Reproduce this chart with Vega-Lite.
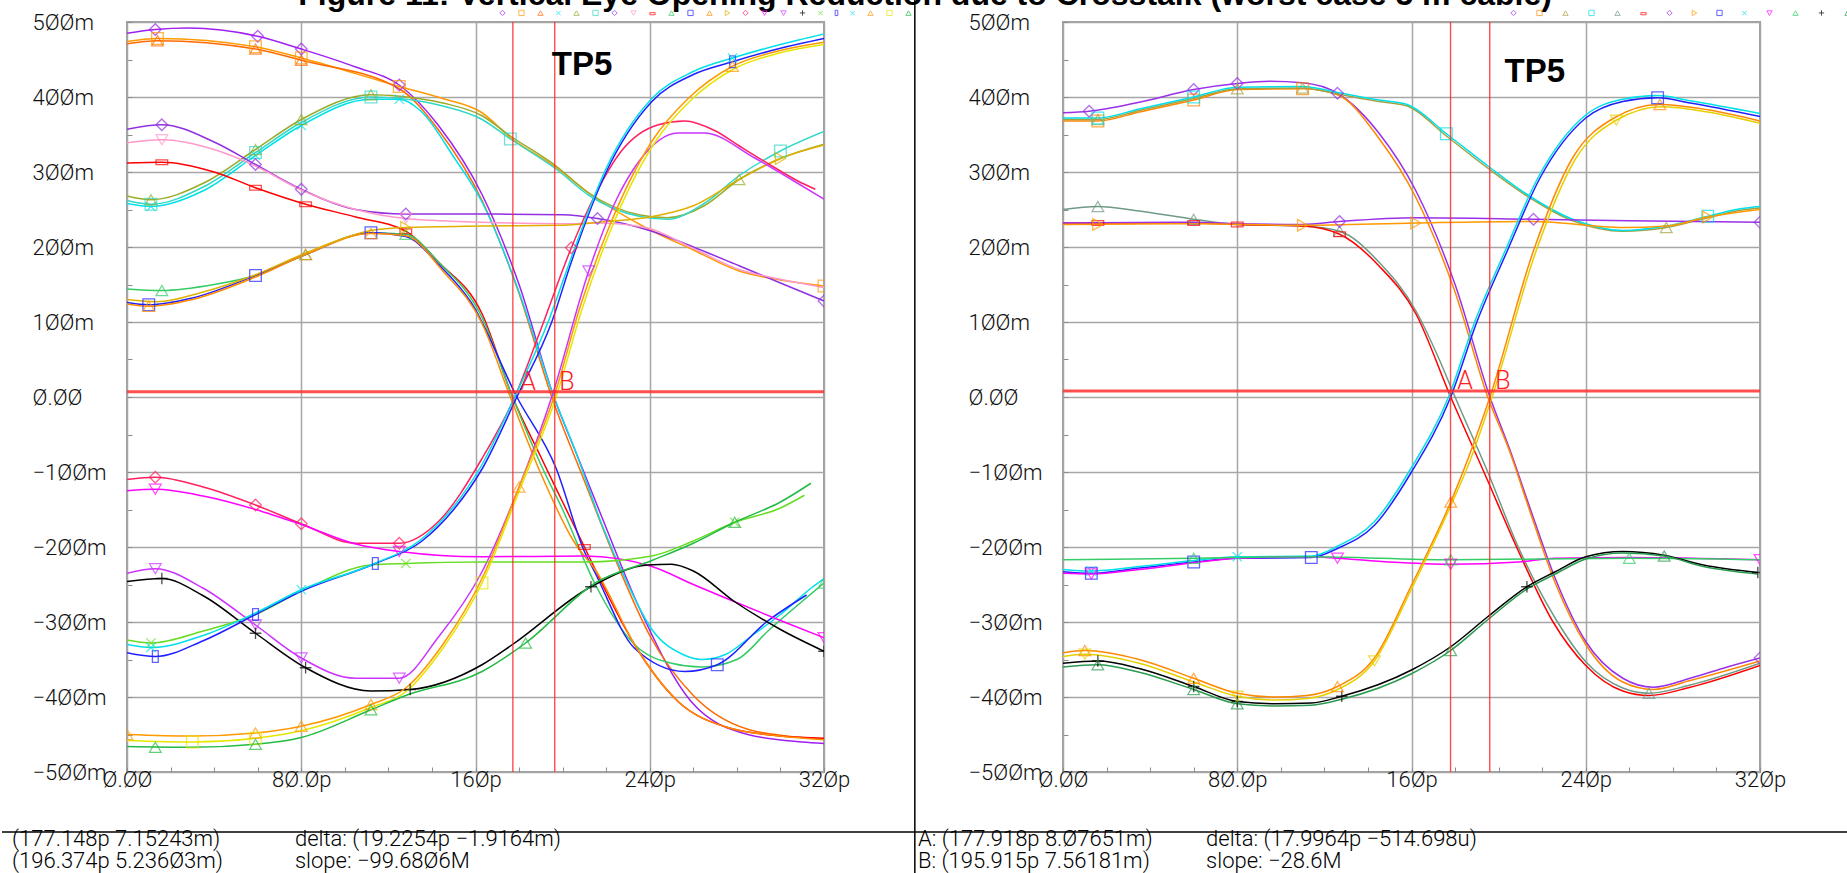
{
"$schema":"https://vega.github.io/schema/vega-lite/v6.json",
"background":"white",
"padding":{"left":0,"top":-40,"right":0,"bottom":0},
"bounds":"flush",
"spacing":239,
"resolve":{"scale":{"color":"independent","shape":"independent"},"legend":{"color":"independent","shape":"independent"}},
"config":{"view":{"stroke":"#a0a0a0","strokeWidth":2},
"axisX":{"title":null,"values":[0,8,16,24,32,40,48,56,64,72,80,88,96,104,112,120,128,136,144,152,160,168,176,184,192,200,208,216,224,232,240,248,256,264,272,280,288,296,304,312,320],
"labelExpr":"datum.value % 80 !== 0 ? '' : datum.value === 0 ? 'Ø.ØØ' : datum.value === 80 ? '8Ø.Øp' : replace(toString(datum.value), regexp('0','g'), 'Ø') + 'p'",
"labelOverlap":false,"labelFlush":false,"labelBound":false,"domain":false,"tickSize":-5,"tickColor":"#8c8c8c","gridColor":"#a6a6a6","gridWidth":1.5,
"gridOpacity":{"condition":{"test":"datum.value % 80 !== 0","value":0},"value":1},
"labelFont":"Roboto","labelFontWeight":300,"labelFontSize":22,"labelColor":"#111111","labelPadding":2,"labelBaseline":"top"},
"axisY":{"title":null,"values":[-500,-480,-460,-440,-420,-400,-380,-360,-340,-320,-300,-280,-260,-240,-220,-200,-180,-160,-140,-120,-100,-80,-60,-40,-20,0,20,40,60,80,100,120,140,160,180,200,220,240,260,280,300,320,340,360,380,400,420,440,460,480,500],
"labelExpr":"datum.value % 100 !== 0 ? '' : datum.value === 0 ? '\u00a0\u00a0Ø.ØØ' : (datum.value < 0 ? '\u2212' : '\u00a0\u00a0') + replace(toString(abs(datum.value)), regexp('0','g'), 'Ø') + 'm'",
"labelOverlap":false,"labelFlush":false,"labelBound":false,"domain":false,"tickSize":-5,"tickColor":"#8c8c8c","gridColor":"#a6a6a6","gridWidth":1.5,
"gridOpacity":{"condition":{"test":"datum.value % 100 !== 0","value":0},"value":1},
"labelFont":"Roboto","labelFontWeight":300,"labelFontSize":22,"labelColor":"#111111",
"labelPadding":100,"labelAlign":"left","labelBaseline":"middle"}
},
"datasets":{
"L":[
{"s":"La","t":0,"v":485},{"s":"La","t":13,"v":490},{"s":"La","t":28,"v":492},{"s":"La","t":60,"v":481},{"s":"La","t":80,"v":464},{"s":"La","t":105,"v":440},{"s":"La","t":125,"v":416},{"s":"La","t":143,"v":362},{"s":"La","t":163,"v":270},{"s":"La","t":180,"v":150},{"s":"La","t":196,"v":0},{"s":"La","t":206,"v":-73},{"s":"La","t":218,"v":-160},{"s":"La","t":235,"v":-280},{"s":"La","t":259,"v":-406},{"s":"La","t":285,"v":-450},{"s":"La","t":310,"v":-460},{"s":"La","t":320,"v":-462},
{"s":"Lb","t":0,"v":474},{"s":"Lb","t":14,"v":478},{"s":"Lb","t":59,"v":467},{"s":"Lb","t":80,"v":452},{"s":"Lb","t":125,"v":414},{"s":"Lb","t":145,"v":398},{"s":"Lb","t":163,"v":379},{"s":"Lb","t":176,"v":346},{"s":"Lb","t":197,"v":306},{"s":"Lb","t":212,"v":272},{"s":"Lb","t":238,"v":226},{"s":"Lb","t":260,"v":196},{"s":"Lb","t":281,"v":168},{"s":"Lb","t":300,"v":156},{"s":"Lb","t":320,"v":148},
{"s":"Lc","t":0,"v":471},{"s":"Lc","t":14,"v":475},{"s":"Lc","t":59,"v":464},{"s":"Lc","t":80,"v":449},{"s":"Lc","t":125,"v":411},{"s":"Lc","t":143,"v":356},{"s":"Lc","t":163,"v":262},{"s":"Lc","t":180,"v":138},{"s":"Lc","t":195,"v":0},{"s":"Lc","t":210,"v":-112},{"s":"Lc","t":225,"v":-222},{"s":"Lc","t":240,"v":-318},{"s":"Lc","t":260,"v":-398},{"s":"Lc","t":285,"v":-443},{"s":"Lc","t":310,"v":-454},{"s":"Lc","t":320,"v":-456},
{"s":"Ld","t":0,"v":258},{"s":"Ld","t":11,"v":254},{"s":"Ld","t":35,"v":275},{"s":"Ld","t":59,"v":322},{"s":"Ld","t":80,"v":362},{"s":"Ld","t":112,"v":397},{"s":"Ld","t":125,"v":397},{"s":"Ld","t":135,"v":381},{"s":"Ld","t":150,"v":320},{"s":"Ld","t":163,"v":260},{"s":"Ld","t":180,"v":140},{"s":"Ld","t":196,"v":0},{"s":"Ld","t":206,"v":-73},{"s":"Ld","t":218,"v":-170},{"s":"Ld","t":230,"v":-250},{"s":"Ld","t":241,"v":-310},{"s":"Ld","t":255,"v":-343},{"s":"Ld","t":264,"v":-350},{"s":"Ld","t":275,"v":-343},{"s":"Ld","t":287,"v":-318},{"s":"Ld","t":300,"v":-290},{"s":"Ld","t":314,"v":-255},{"s":"Ld","t":320,"v":-242},
{"s":"Le","t":0,"v":268},{"s":"Le","t":11,"v":263},{"s":"Le","t":35,"v":285},{"s":"Le","t":59,"v":330},{"s":"Le","t":80,"v":370},{"s":"Le","t":112,"v":403},{"s":"Le","t":125,"v":401},{"s":"Le","t":145,"v":392},{"s":"Le","t":163,"v":375},{"s":"Le","t":176,"v":348},{"s":"Le","t":197,"v":308},{"s":"Le","t":212,"v":272},{"s":"Le","t":235,"v":243},{"s":"Le","t":248,"v":239},{"s":"Le","t":265,"v":255},{"s":"Le","t":281,"v":290},{"s":"Le","t":300,"v":318},{"s":"Le","t":320,"v":337},
{"s":"Lf","t":0,"v":262},{"s":"Lf","t":11,"v":257},{"s":"Lf","t":35,"v":280},{"s":"Lf","t":59,"v":326},{"s":"Lf","t":80,"v":366},{"s":"Lf","t":112,"v":400},{"s":"Lf","t":125,"v":398},{"s":"Lf","t":145,"v":388},{"s":"Lf","t":163,"v":370},{"s":"Lf","t":176,"v":344},{"s":"Lf","t":197,"v":304},{"s":"Lf","t":212,"v":269},{"s":"Lf","t":235,"v":241},{"s":"Lf","t":248,"v":237},{"s":"Lf","t":265,"v":258},{"s":"Lf","t":281,"v":295},{"s":"Lf","t":300,"v":328},{"s":"Lf","t":320,"v":354},
{"s":"Lg","t":0,"v":357},{"s":"Lg","t":16,"v":363},{"s":"Lg","t":40,"v":340},{"s":"Lg","t":59,"v":310},{"s":"Lg","t":80,"v":277},{"s":"Lg","t":105,"v":250},{"s":"Lg","t":128,"v":244},{"s":"Lg","t":163,"v":244},{"s":"Lg","t":200,"v":243},{"s":"Lg","t":216,"v":238},{"s":"Lg","t":241,"v":221},{"s":"Lg","t":260,"v":200},{"s":"Lg","t":281,"v":175},{"s":"Lg","t":300,"v":152},{"s":"Lg","t":320,"v":128},
{"s":"Lh","t":0,"v":339},{"s":"Lh","t":16,"v":343},{"s":"Lh","t":40,"v":330},{"s":"Lh","t":59,"v":308},{"s":"Lh","t":80,"v":276},{"s":"Lh","t":105,"v":250},{"s":"Lh","t":128,"v":238},{"s":"Lh","t":163,"v":233},{"s":"Lh","t":200,"v":231},{"s":"Lh","t":216,"v":232},{"s":"Lh","t":238,"v":226},{"s":"Lh","t":260,"v":198},{"s":"Lh","t":281,"v":170},{"s":"Lh","t":300,"v":157},{"s":"Lh","t":320,"v":146},
{"s":"Li","t":0,"v":312},{"s":"Li","t":16,"v":313},{"s":"Li","t":40,"v":300},{"s":"Li","t":59,"v":279},{"s":"Li","t":82,"v":257},{"s":"Li","t":105,"v":240},{"s":"Li","t":128,"v":221},{"s":"Li","t":143,"v":180},{"s":"Li","t":163,"v":111},{"s":"Li","t":177,"v":0},{"s":"Li","t":190,"v":-80},{"s":"Li","t":200,"v":-140},{"s":"Li","t":210,"v":-200},{"s":"Li","t":220,"v":-260},{"s":"Li","t":233,"v":-330},{"s":"Li","t":253,"v":-406},{"s":"Li","t":275,"v":-440},{"s":"Li","t":300,"v":-452},{"s":"Li","t":320,"v":-455},
{"s":"Lj","t":0,"v":144},{"s":"Lj","t":16,"v":142},{"s":"Lj","t":40,"v":150},{"s":"Lj","t":59,"v":162},{"s":"Lj","t":82,"v":190},{"s":"Lj","t":112,"v":219},{"s":"Lj","t":128,"v":217},{"s":"Lj","t":143,"v":180},{"s":"Lj","t":163,"v":106},{"s":"Lj","t":177,"v":0},{"s":"Lj","t":190,"v":-90},{"s":"Lj","t":200,"v":-150},{"s":"Lj","t":215,"v":-250},{"s":"Lj","t":233,"v":-330},{"s":"Lj","t":250,"v":-355},{"s":"Lj","t":264,"v":-360},{"s":"Lj","t":280,"v":-350},{"s":"Lj","t":295,"v":-310},{"s":"Lj","t":320,"v":-248},
{"s":"Lk","t":0,"v":126},{"s":"Lk","t":10,"v":123},{"s":"Lk","t":30,"v":132},{"s":"Lk","t":59,"v":162},{"s":"Lk","t":82,"v":190},{"s":"Lk","t":112,"v":219},{"s":"Lk","t":128,"v":214},{"s":"Lk","t":143,"v":177},{"s":"Lk","t":158,"v":126},{"s":"Lk","t":179,"v":0},{"s":"Lk","t":197,"v":-95},{"s":"Lk","t":210,"v":-206},{"s":"Lk","t":215,"v":-235},{"s":"Lk","t":233,"v":-335},{"s":"Lk","t":256,"v":-366},{"s":"Lk","t":271,"v":-357},{"s":"Lk","t":294,"v":-299},{"s":"Lk","t":312,"v":-264},
{"s":"Ll","t":0,"v":124},{"s":"Ll","t":10,"v":121},{"s":"Ll","t":30,"v":130},{"s":"Ll","t":59,"v":160},{"s":"Ll","t":82,"v":190},{"s":"Ll","t":112,"v":218},{"s":"Ll","t":128,"v":215},{"s":"Ll","t":145,"v":168},{"s":"Ll","t":163,"v":98},{"s":"Ll","t":176,"v":0},{"s":"Ll","t":190,"v":-102},{"s":"Ll","t":205,"v":-192},{"s":"Ll","t":216,"v":-235},{"s":"Ll","t":233,"v":-330},{"s":"Ll","t":253,"v":-406},{"s":"Ll","t":275,"v":-440},{"s":"Ll","t":300,"v":-452},{"s":"Ll","t":320,"v":-457},
{"s":"Lm","t":0,"v":130},{"s":"Lm","t":14,"v":127},{"s":"Lm","t":35,"v":140},{"s":"Lm","t":59,"v":163},{"s":"Lm","t":82,"v":192},{"s":"Lm","t":112,"v":222},{"s":"Lm","t":128,"v":226},{"s":"Lm","t":163,"v":228},{"s":"Lm","t":200,"v":229},{"s":"Lm","t":220,"v":234},{"s":"Lm","t":240,"v":240},{"s":"Lm","t":260,"v":255},{"s":"Lm","t":281,"v":290},{"s":"Lm","t":300,"v":318},{"s":"Lm","t":320,"v":336},
{"s":"Ln","t":0,"v":-110},{"s":"Ln","t":13,"v":-107},{"s":"Ln","t":35,"v":-120},{"s":"Ln","t":59,"v":-144},{"s":"Ln","t":80,"v":-169},{"s":"Ln","t":105,"v":-195},{"s":"Ln","t":125,"v":-195},{"s":"Ln","t":143,"v":-166},{"s":"Ln","t":163,"v":-82},{"s":"Ln","t":178,"v":0},{"s":"Ln","t":190,"v":90},{"s":"Ln","t":204,"v":199},{"s":"Ln","t":215,"v":270},{"s":"Ln","t":227,"v":328},{"s":"Ln","t":244,"v":363},{"s":"Ln","t":256,"v":368},{"s":"Ln","t":270,"v":355},{"s":"Ln","t":281,"v":335},{"s":"Ln","t":295,"v":310},{"s":"Ln","t":308,"v":288},{"s":"Ln","t":316,"v":277},
{"s":"Lo","t":0,"v":-125},{"s":"Lo","t":13,"v":-123},{"s":"Lo","t":35,"v":-132},{"s":"Lo","t":59,"v":-150},{"s":"Lo","t":80,"v":-170},{"s":"Lo","t":105,"v":-196},{"s":"Lo","t":125,"v":-206},{"s":"Lo","t":163,"v":-213},{"s":"Lo","t":210,"v":-212},{"s":"Lo","t":241,"v":-226},{"s":"Lo","t":260,"v":-250},{"s":"Lo","t":279,"v":-273},{"s":"Lo","t":300,"v":-298},{"s":"Lo","t":320,"v":-321},
{"s":"Lp","t":0,"v":-235},{"s":"Lp","t":13,"v":-229},{"s":"Lp","t":35,"v":-255},{"s":"Lp","t":59,"v":-304},{"s":"Lp","t":80,"v":-348},{"s":"Lp","t":105,"v":-375},{"s":"Lp","t":125,"v":-375},{"s":"Lp","t":143,"v":-320},{"s":"Lp","t":163,"v":-233},{"s":"Lp","t":180,"v":-120},{"s":"Lp","t":195,"v":0},{"s":"Lp","t":212,"v":168},{"s":"Lp","t":225,"v":265},{"s":"Lp","t":235,"v":314},{"s":"Lp","t":253,"v":352},{"s":"Lp","t":265,"v":352},{"s":"Lp","t":288,"v":319},{"s":"Lp","t":305,"v":290},{"s":"Lp","t":320,"v":264},
{"s":"Lq","t":0,"v":-246},{"s":"Lq","t":16,"v":-242},{"s":"Lq","t":35,"v":-265},{"s":"Lq","t":59,"v":-315},{"s":"Lq","t":82,"v":-361},{"s":"Lq","t":112,"v":-392},{"s":"Lq","t":130,"v":-390},{"s":"Lq","t":163,"v":-357},{"s":"Lq","t":177,"v":-330},{"s":"Lq","t":213,"v":-253},{"s":"Lq","t":239,"v":-224},{"s":"Lq","t":250,"v":-223},{"s":"Lq","t":260,"v":-232},{"s":"Lq","t":279,"v":-273},{"s":"Lq","t":300,"v":-310},{"s":"Lq","t":320,"v":-339},
{"s":"Lr","t":0,"v":-324},{"s":"Lr","t":11,"v":-328},{"s":"Lr","t":35,"v":-312},{"s":"Lr","t":59,"v":-290},{"s":"Lr","t":80,"v":-259},{"s":"Lr","t":112,"v":-224},{"s":"Lr","t":128,"v":-222},{"s":"Lr","t":163,"v":-220},{"s":"Lr","t":210,"v":-220},{"s":"Lr","t":241,"v":-212},{"s":"Lr","t":260,"v":-192},{"s":"Lr","t":279,"v":-167},{"s":"Lr","t":300,"v":-148},{"s":"Lr","t":311,"v":-131},
{"s":"Ls","t":0,"v":-341},{"s":"Ls","t":13,"v":-346},{"s":"Ls","t":35,"v":-325},{"s":"Ls","t":59,"v":-290},{"s":"Ls","t":80,"v":-259},{"s":"Ls","t":114,"v":-222},{"s":"Ls","t":135,"v":-193},{"s":"Ls","t":150,"v":-150},{"s":"Ls","t":163,"v":-96},{"s":"Ls","t":179,"v":0},{"s":"Ls","t":195,"v":100},{"s":"Ls","t":204,"v":180},{"s":"Ls","t":220,"v":300},{"s":"Ls","t":241,"v":394},{"s":"Ls","t":260,"v":430},{"s":"Ls","t":278,"v":447},{"s":"Ls","t":300,"v":465},{"s":"Ls","t":320,"v":478},
{"s":"Lt","t":0,"v":-330},{"s":"Lt","t":11,"v":-334},{"s":"Lt","t":35,"v":-318},{"s":"Lt","t":59,"v":-288},{"s":"Lt","t":80,"v":-257},{"s":"Lt","t":112,"v":-224},{"s":"Lt","t":135,"v":-190},{"s":"Lt","t":150,"v":-146},{"s":"Lt","t":163,"v":-90},{"s":"Lt","t":178,"v":0},{"s":"Lt","t":194,"v":105},{"s":"Lt","t":204,"v":186},{"s":"Lt","t":220,"v":305},{"s":"Lt","t":241,"v":398},{"s":"Lt","t":260,"v":434},{"s":"Lt","t":278,"v":452},{"s":"Lt","t":300,"v":470},{"s":"Lt","t":320,"v":484},
{"s":"Lu","t":0,"v":-450},{"s":"Lu","t":30,"v":-452},{"s":"Lu","t":59,"v":-448},{"s":"Lu","t":80,"v":-439},{"s":"Lu","t":112,"v":-410},{"s":"Lu","t":128,"v":-388},{"s":"Lu","t":145,"v":-330},{"s":"Lu","t":163,"v":-242},{"s":"Lu","t":180,"v":-120},{"s":"Lu","t":196,"v":0},{"s":"Lu","t":208,"v":120},{"s":"Lu","t":220,"v":217},{"s":"Lu","t":241,"v":341},{"s":"Lu","t":258,"v":399},{"s":"Lu","t":278,"v":441},{"s":"Lu","t":300,"v":462},{"s":"Lu","t":320,"v":473},
{"s":"Lv","t":0,"v":-458},{"s":"Lv","t":30,"v":-460},{"s":"Lv","t":59,"v":-455},{"s":"Lv","t":80,"v":-445},{"s":"Lv","t":112,"v":-414},{"s":"Lv","t":128,"v":-393},{"s":"Lv","t":145,"v":-335},{"s":"Lv","t":163,"v":-248},{"s":"Lv","t":180,"v":-126},{"s":"Lv","t":197,"v":0},{"s":"Lv","t":209,"v":118},{"s":"Lv","t":221,"v":215},{"s":"Lv","t":242,"v":338},{"s":"Lv","t":259,"v":396},{"s":"Lv","t":279,"v":438},{"s":"Lv","t":300,"v":459},{"s":"Lv","t":320,"v":470},
{"s":"Lw","t":0,"v":-466},{"s":"Lw","t":30,"v":-467},{"s":"Lw","t":59,"v":-463},{"s":"Lw","t":80,"v":-454},{"s":"Lw","t":112,"v":-417},{"s":"Lw","t":128,"v":-398},{"s":"Lw","t":163,"v":-366},{"s":"Lw","t":183,"v":-328},{"s":"Lw","t":215,"v":-248},{"s":"Lw","t":241,"v":-218},{"s":"Lw","t":260,"v":-195},{"s":"Lw","t":279,"v":-167},{"s":"Lw","t":300,"v":-140},{"s":"Lw","t":314,"v":-115}
],
"R":[
{"s":"RA","t":0,"v":379},{"s":"RA","t":12,"v":381},{"s":"RA","t":35,"v":393},{"s":"RA","t":60,"v":410},{"s":"RA","t":80,"v":418},{"s":"RA","t":95,"v":421},{"s":"RA","t":110,"v":419},{"s":"RA","t":126,"v":405},{"s":"RA","t":145,"v":352},{"s":"RA","t":162,"v":275},{"s":"RA","t":180,"v":150},{"s":"RA","t":196,"v":0},{"s":"RA","t":205,"v":-69},{"s":"RA","t":215,"v":-153},{"s":"RA","t":226,"v":-242},{"s":"RA","t":240,"v":-326},{"s":"RA","t":257,"v":-375},{"s":"RA","t":271,"v":-387},{"s":"RA","t":288,"v":-375},{"s":"RA","t":305,"v":-360},{"s":"RA","t":320,"v":-348},
{"s":"RB","t":0,"v":368},{"s":"RB","t":16,"v":368},{"s":"RB","t":35,"v":380},{"s":"RB","t":60,"v":396},{"s":"RB","t":80,"v":410},{"s":"RB","t":110,"v":411},{"s":"RB","t":126,"v":403},{"s":"RB","t":145,"v":345},{"s":"RB","t":162,"v":266},{"s":"RB","t":180,"v":140},{"s":"RB","t":195,"v":0},{"s":"RB","t":205,"v":-72},{"s":"RB","t":215,"v":-158},{"s":"RB","t":226,"v":-248},{"s":"RB","t":240,"v":-330},{"s":"RB","t":257,"v":-380},{"s":"RB","t":271,"v":-390},{"s":"RB","t":288,"v":-378},{"s":"RB","t":320,"v":-352},
{"s":"RC","t":0,"v":370},{"s":"RC","t":16,"v":370},{"s":"RC","t":35,"v":382},{"s":"RC","t":60,"v":398},{"s":"RC","t":80,"v":411},{"s":"RC","t":110,"v":412},{"s":"RC","t":126,"v":404},{"s":"RC","t":145,"v":394},{"s":"RC","t":158,"v":388},{"s":"RC","t":176,"v":348},{"s":"RC","t":196,"v":303},{"s":"RC","t":212,"v":270},{"s":"RC","t":234,"v":235},{"s":"RC","t":257,"v":221},{"s":"RC","t":277,"v":226},{"s":"RC","t":296,"v":239},{"s":"RC","t":311,"v":249},{"s":"RC","t":320,"v":252},
{"s":"RD","t":0,"v":372},{"s":"RD","t":16,"v":372},{"s":"RD","t":35,"v":384},{"s":"RD","t":60,"v":400},{"s":"RD","t":80,"v":413},{"s":"RD","t":110,"v":414},{"s":"RD","t":126,"v":406},{"s":"RD","t":145,"v":396},{"s":"RD","t":158,"v":390},{"s":"RD","t":176,"v":351},{"s":"RD","t":196,"v":306},{"s":"RD","t":212,"v":272},{"s":"RD","t":234,"v":237},{"s":"RD","t":257,"v":222},{"s":"RD","t":277,"v":228},{"s":"RD","t":296,"v":241},{"s":"RD","t":311,"v":251},{"s":"RD","t":320,"v":254},
{"s":"RE","t":0,"v":250},{"s":"RE","t":16,"v":254},{"s":"RE","t":35,"v":248},{"s":"RE","t":60,"v":237},{"s":"RE","t":80,"v":230},{"s":"RE","t":110,"v":228},{"s":"RE","t":127,"v":221},{"s":"RE","t":145,"v":180},{"s":"RE","t":162,"v":115},{"s":"RE","t":172,"v":55},{"s":"RE","t":180,"v":0},{"s":"RE","t":195,"v":-100},{"s":"RE","t":209,"v":-200},{"s":"RE","t":226,"v":-295},{"s":"RE","t":240,"v":-353},{"s":"RE","t":257,"v":-388},{"s":"RE","t":269,"v":-395},{"s":"RE","t":288,"v":-384},{"s":"RE","t":320,"v":-355},
{"s":"RF","t":0,"v":232},{"s":"RF","t":60,"v":232},{"s":"RF","t":80,"v":230},{"s":"RF","t":110,"v":228},{"s":"RF","t":127,"v":217},{"s":"RF","t":145,"v":175},{"s":"RF","t":162,"v":111},{"s":"RF","t":178,"v":0},{"s":"RF","t":194,"v":-105},{"s":"RF","t":209,"v":-205},{"s":"RF","t":225,"v":-300},{"s":"RF","t":240,"v":-358},{"s":"RF","t":257,"v":-392},{"s":"RF","t":269,"v":-398},{"s":"RF","t":288,"v":-387},{"s":"RF","t":320,"v":-358},
{"s":"RG","t":0,"v":232},{"s":"RG","t":60,"v":233},{"s":"RG","t":80,"v":231},{"s":"RG","t":110,"v":230},{"s":"RG","t":127,"v":234},{"s":"RG","t":162,"v":239},{"s":"RG","t":216,"v":237},{"s":"RG","t":260,"v":235},{"s":"RG","t":320,"v":233},
{"s":"RH","t":0,"v":230},{"s":"RH","t":60,"v":231},{"s":"RH","t":110,"v":229},{"s":"RH","t":162,"v":232},{"s":"RH","t":216,"v":234},{"s":"RH","t":257,"v":226},{"s":"RH","t":277,"v":228},{"s":"RH","t":296,"v":240},{"s":"RH","t":320,"v":250},
{"s":"RI","t":0,"v":-233},{"s":"RI","t":13,"v":-235},{"s":"RI","t":35,"v":-228},{"s":"RI","t":60,"v":-220},{"s":"RI","t":80,"v":-215},{"s":"RI","t":114,"v":-214},{"s":"RI","t":126,"v":-202},{"s":"RI","t":143,"v":-171},{"s":"RI","t":160,"v":-100},{"s":"RI","t":178,"v":0},{"s":"RI","t":190,"v":100},{"s":"RI","t":204,"v":195},{"s":"RI","t":219,"v":292},{"s":"RI","t":240,"v":372},{"s":"RI","t":257,"v":394},{"s":"RI","t":273,"v":399},{"s":"RI","t":288,"v":392},{"s":"RI","t":320,"v":374},
{"s":"RJ","t":0,"v":-230},{"s":"RJ","t":13,"v":-232},{"s":"RJ","t":35,"v":-226},{"s":"RJ","t":60,"v":-218},{"s":"RJ","t":80,"v":-213},{"s":"RJ","t":114,"v":-212},{"s":"RJ","t":126,"v":-199},{"s":"RJ","t":143,"v":-166},{"s":"RJ","t":160,"v":-94},{"s":"RJ","t":177,"v":0},{"s":"RJ","t":189,"v":100},{"s":"RJ","t":203,"v":195},{"s":"RJ","t":218,"v":292},{"s":"RJ","t":240,"v":376},{"s":"RJ","t":257,"v":397},{"s":"RJ","t":273,"v":402},{"s":"RJ","t":288,"v":395},{"s":"RJ","t":320,"v":378},
{"s":"RK","t":0,"v":-235},{"s":"RK","t":13,"v":-236},{"s":"RK","t":35,"v":-230},{"s":"RK","t":60,"v":-221},{"s":"RK","t":80,"v":-215},{"s":"RK","t":113,"v":-213},{"s":"RK","t":126,"v":-215},{"s":"RK","t":150,"v":-220},{"s":"RK","t":178,"v":-223},{"s":"RK","t":209,"v":-220},{"s":"RK","t":226,"v":-215},{"s":"RK","t":260,"v":-214},{"s":"RK","t":320,"v":-217},
{"s":"RL","t":0,"v":-217},{"s":"RL","t":60,"v":-215},{"s":"RL","t":113,"v":-213},{"s":"RL","t":178,"v":-217},{"s":"RL","t":260,"v":-215},{"s":"RL","t":320,"v":-217},
{"s":"RM","t":0,"v":-355},{"s":"RM","t":16,"v":-352},{"s":"RM","t":35,"v":-362},{"s":"RM","t":60,"v":-386},{"s":"RM","t":80,"v":-406},{"s":"RM","t":97,"v":-409},{"s":"RM","t":114,"v":-408},{"s":"RM","t":128,"v":-399},{"s":"RM","t":160,"v":-364},{"s":"RM","t":178,"v":-333},{"s":"RM","t":195,"v":-293},{"s":"RM","t":213,"v":-253},{"s":"RM","t":226,"v":-233},{"s":"RM","t":240,"v":-213},{"s":"RM","t":257,"v":-206},{"s":"RM","t":276,"v":-211},{"s":"RM","t":294,"v":-224},{"s":"RM","t":319,"v":-234},
{"s":"RN","t":0,"v":-360},{"s":"RN","t":16,"v":-357},{"s":"RN","t":35,"v":-367},{"s":"RN","t":60,"v":-390},{"s":"RN","t":80,"v":-409},{"s":"RN","t":97,"v":-412},{"s":"RN","t":114,"v":-411},{"s":"RN","t":128,"v":-403},{"s":"RN","t":160,"v":-369},{"s":"RN","t":178,"v":-338},{"s":"RN","t":195,"v":-297},{"s":"RN","t":213,"v":-256},{"s":"RN","t":226,"v":-236},{"s":"RN","t":240,"v":-216},{"s":"RN","t":257,"v":-208},{"s":"RN","t":276,"v":-212},{"s":"RN","t":294,"v":-226},{"s":"RN","t":319,"v":-236},
{"s":"RO","t":0,"v":-341},{"s":"RO","t":10,"v":-338},{"s":"RO","t":35,"v":-350},{"s":"RO","t":60,"v":-375},{"s":"RO","t":80,"v":-395},{"s":"RO","t":97,"v":-400},{"s":"RO","t":112,"v":-398},{"s":"RO","t":126,"v":-386},{"s":"RO","t":143,"v":-348},{"s":"RO","t":160,"v":-251},{"s":"RO","t":178,"v":-140},{"s":"RO","t":186,"v":-82},{"s":"RO","t":196,"v":0},{"s":"RO","t":216,"v":195},{"s":"RO","t":234,"v":319},{"s":"RO","t":253,"v":372},{"s":"RO","t":274,"v":390},{"s":"RO","t":296,"v":383},{"s":"RO","t":320,"v":368},
{"s":"RP","t":0,"v":-346},{"s":"RP","t":10,"v":-343},{"s":"RP","t":35,"v":-355},{"s":"RP","t":60,"v":-380},{"s":"RP","t":80,"v":-399},{"s":"RP","t":97,"v":-404},{"s":"RP","t":112,"v":-402},{"s":"RP","t":126,"v":-390},{"s":"RP","t":143,"v":-352},{"s":"RP","t":160,"v":-256},{"s":"RP","t":178,"v":-145},{"s":"RP","t":187,"v":-84},{"s":"RP","t":197,"v":0},{"s":"RP","t":217,"v":193},{"s":"RP","t":235,"v":316},{"s":"RP","t":254,"v":369},{"s":"RP","t":275,"v":387},{"s":"RP","t":296,"v":380},{"s":"RP","t":320,"v":365}
],
"LM":[
{"s":"La","t":13,"v":490},{"s":"La","t":60,"v":481},{"s":"La","t":80,"v":464},{"s":"La","t":125,"v":416},
{"s":"Lb","t":14,"v":478},{"s":"Lb","t":59,"v":467},{"s":"Lb","t":80,"v":452},{"s":"Lb","t":125,"v":414},{"s":"Lb","t":320,"v":148},
{"s":"Lc","t":14,"v":475},{"s":"Lc","t":59,"v":464},{"s":"Lc","t":80,"v":449},
{"s":"Ld","t":11,"v":254},{"s":"Ld","t":59,"v":322},{"s":"Ld","t":80,"v":362},{"s":"Ld","t":125,"v":397},
{"s":"Le","t":11,"v":263},{"s":"Le","t":59,"v":330},{"s":"Le","t":80,"v":370},{"s":"Le","t":112,"v":403},{"s":"Le","t":281,"v":290},
{"s":"Lf","t":11,"v":257},{"s":"Lf","t":59,"v":326},{"s":"Lf","t":112,"v":400},{"s":"Lf","t":176,"v":344},{"s":"Lf","t":300,"v":328},
{"s":"Lg","t":16,"v":363},{"s":"Lg","t":59,"v":310},{"s":"Lg","t":80,"v":277},{"s":"Lg","t":128,"v":244},{"s":"Lg","t":216,"v":238},{"s":"Lg","t":320,"v":128},
{"s":"Lh","t":16,"v":343},{"s":"Lh","t":128,"v":238},
{"s":"Li","t":16,"v":313},{"s":"Li","t":59,"v":279},{"s":"Li","t":82,"v":257},{"s":"Li","t":128,"v":221},{"s":"Li","t":210,"v":-200},
{"s":"Lj","t":16,"v":142},{"s":"Lj","t":82,"v":190},{"s":"Lj","t":128,"v":217},{"s":"Lj","t":320,"v":-248},
{"s":"Lk","t":10,"v":123},{"s":"Lk","t":59,"v":162},{"s":"Lk","t":112,"v":219},{"s":"Lk","t":271,"v":-357},
{"s":"Ll","t":10,"v":121},{"s":"Ll","t":82,"v":190},{"s":"Ll","t":112,"v":218},
{"s":"Lm","t":128,"v":226},{"s":"Lm","t":300,"v":318},
{"s":"Ln","t":13,"v":-107},{"s":"Ln","t":59,"v":-144},{"s":"Ln","t":80,"v":-169},{"s":"Ln","t":125,"v":-195},{"s":"Ln","t":204,"v":199},
{"s":"Lo","t":13,"v":-123},{"s":"Lo","t":125,"v":-206},{"s":"Lo","t":320,"v":-321},
{"s":"Lp","t":13,"v":-229},{"s":"Lp","t":59,"v":-304},{"s":"Lp","t":80,"v":-348},{"s":"Lp","t":125,"v":-375},{"s":"Lp","t":212,"v":168},
{"s":"Lq","t":16,"v":-242},{"s":"Lq","t":59,"v":-315},{"s":"Lq","t":82,"v":-361},{"s":"Lq","t":130,"v":-390},{"s":"Lq","t":213,"v":-253},{"s":"Lq","t":320,"v":-339},
{"s":"Lr","t":11,"v":-328},{"s":"Lr","t":128,"v":-222},{"s":"Lr","t":279,"v":-167},
{"s":"Ls","t":13,"v":-346},{"s":"Ls","t":59,"v":-290},{"s":"Ls","t":114,"v":-222},{"s":"Ls","t":278,"v":447},
{"s":"Lt","t":11,"v":-334},{"s":"Lt","t":80,"v":-257},{"s":"Lt","t":278,"v":452},
{"s":"Lu","t":0,"v":-450},{"s":"Lu","t":59,"v":-448},{"s":"Lu","t":80,"v":-439},{"s":"Lu","t":112,"v":-410},{"s":"Lu","t":180,"v":-120},{"s":"Lu","t":278,"v":441},
{"s":"Lv","t":30,"v":-460},{"s":"Lv","t":59,"v":-455},{"s":"Lv","t":163,"v":-248},
{"s":"Lw","t":13,"v":-467},{"s":"Lw","t":59,"v":-463},{"s":"Lw","t":112,"v":-417},{"s":"Lw","t":183,"v":-328},{"s":"Lw","t":279,"v":-167}
],
"RMK":[
{"s":"RA","t":12,"v":381},{"s":"RA","t":60,"v":410},{"s":"RA","t":80,"v":418},{"s":"RA","t":126,"v":405},{"s":"RA","t":320,"v":-348},
{"s":"RB","t":16,"v":368},{"s":"RB","t":60,"v":396},{"s":"RB","t":110,"v":411},
{"s":"RC","t":16,"v":370},{"s":"RC","t":80,"v":411},{"s":"RC","t":110,"v":412},{"s":"RC","t":277,"v":226},
{"s":"RD","t":16,"v":372},{"s":"RD","t":60,"v":400},{"s":"RD","t":176,"v":351},{"s":"RD","t":296,"v":241},
{"s":"RE","t":16,"v":254},{"s":"RE","t":60,"v":237},{"s":"RE","t":127,"v":221},{"s":"RE","t":269,"v":-395},
{"s":"RF","t":16,"v":232},{"s":"RF","t":60,"v":232},{"s":"RF","t":80,"v":230},{"s":"RF","t":127,"v":217},
{"s":"RG","t":127,"v":234},{"s":"RG","t":216,"v":237},{"s":"RG","t":320,"v":233},
{"s":"RH","t":16,"v":230},{"s":"RH","t":110,"v":229},{"s":"RH","t":162,"v":232},{"s":"RH","t":296,"v":240},
{"s":"RI","t":13,"v":-235},{"s":"RI","t":60,"v":-220},{"s":"RI","t":114,"v":-214},{"s":"RI","t":273,"v":399},
{"s":"RJ","t":13,"v":-232},{"s":"RJ","t":80,"v":-213},
{"s":"RK","t":13,"v":-236},{"s":"RK","t":126,"v":-215},{"s":"RK","t":178,"v":-223},{"s":"RK","t":320,"v":-217},
{"s":"RL","t":60,"v":-215},{"s":"RL","t":178,"v":-217},{"s":"RL","t":260,"v":-215},
{"s":"RM","t":16,"v":-352},{"s":"RM","t":60,"v":-386},{"s":"RM","t":80,"v":-406},{"s":"RM","t":128,"v":-399},{"s":"RM","t":213,"v":-253},{"s":"RM","t":319,"v":-234},
{"s":"RN","t":16,"v":-357},{"s":"RN","t":60,"v":-390},{"s":"RN","t":80,"v":-409},{"s":"RN","t":178,"v":-338},{"s":"RN","t":276,"v":-212},
{"s":"RO","t":10,"v":-338},{"s":"RO","t":60,"v":-375},{"s":"RO","t":126,"v":-386},{"s":"RO","t":178,"v":-140},{"s":"RO","t":274,"v":390},
{"s":"RP","t":10,"v":-343},{"s":"RP","t":80,"v":-399},{"s":"RP","t":143,"v":-352},{"s":"RP","t":254,"v":369}
]
},
"hconcat":[
{"width":697,"height":750,
"layer":[
{"data":{"name":"L"},"mark":{"type":"line","interpolate":"monotone","strokeWidth":1.5,"clip":true},
"encoding":{"x":{"field":"t","type":"quantitative","scale":{"domain":[0,320],"nice":false,"zero":false},"axis":{"labelFlush":false}},
"y":{"field":"v","type":"quantitative","scale":{"domain":[-500,500],"nice":false,"zero":false},"axis":{"labelFlush":false}},
"color":{"field":"s","type":"nominal","legend":{"orient":"none","legendX":372,"legendY":-13,"direction":"horizontal","columns":23,"title":null,"labelExpr":"''","labelFontSize":1,"symbolSize":28,"symbolStrokeWidth":1,"columnPadding":8,"rowPadding":0,"padding":0,"labelOffset":0},"scale":{"domain":["La","Lb","Lc","Ld","Le","Lf","Lg","Lh","Li","Lj","Lk","Ll","Lm","Ln","Lo","Lp","Lq","Lr","Ls","Lt","Lu","Lv","Lw"],"range":["#a020f0","#ff9900","#ff6a00","#00e0ea","#9aab2a","#30d8c8","#9030e0","#ff99cc","#ff0000","#33cc66","#2020ff","#ff8c00","#e0b000","#ff2060","#ff00ff","#cc33ff","#000000","#66dd22","#2020ff","#00e0ea","#ff9900","#e6e600","#22bb44"]}}}},
{"data":{"name":"LM"},"mark":{"type":"point","filled":false,"size":135,"strokeWidth":1.3,"clip":true},
"encoding":{"x":{"field":"t","type":"quantitative","scale":{"domain":[0,320],"nice":false,"zero":false}},
"y":{"field":"v","type":"quantitative","scale":{"domain":[-500,500],"nice":false,"zero":false}},
"color":{"field":"s","type":"nominal","legend":{"orient":"none","legendX":372,"legendY":-13,"direction":"horizontal","columns":23,"title":null,"labelExpr":"''","labelFontSize":1,"symbolSize":28,"symbolStrokeWidth":1,"columnPadding":8,"rowPadding":0,"padding":0,"labelOffset":0}},
"shape":{"field":"s","type":"nominal","legend":{"orient":"none","legendX":372,"legendY":-13,"direction":"horizontal","columns":23,"title":null,"labelExpr":"''","labelFontSize":1,"symbolSize":28,"symbolStrokeWidth":1,"columnPadding":8,"rowPadding":0,"padding":0,"labelOffset":0},"scale":{"domain":["La","Lb","Lc","Ld","Le","Lf","Lg","Lh","Li","Lj","Lk","Ll","Lm","Ln","Lo","Lp","Lq","Lr","Ls","Lt","Lu","Lv","Lw"],"range":["diamond","square","triangle-up","M-0.8,-0.8L0.8,0.8M-0.8,0.8L0.8,-0.8","triangle-up","square","diamond","triangle-down","M-1,-0.4L1,-0.4L1,0.4L-1,0.4Z","triangle-up","square","triangle-up","triangle-right","diamond","triangle-down","triangle-down","M-1,0L1,0M0,-1L0,1","M-0.8,-0.8L0.8,0.8M-0.8,0.8L0.8,-0.8","M-0.5,-1L0.5,-1L0.5,1L-0.5,1Z","M-0.8,-0.8L0.8,0.8M-0.8,0.8L0.8,-0.8","triangle-up","square","triangle-up"]}}}},
{"data":{"values":[{"v":7.15243}]},"mark":{"type":"rule","color":"#ff3030","strokeWidth":3,"opacity":0.85},"encoding":{"y":{"field":"v","type":"quantitative","scale":{"domain":[-500,500],"nice":false,"zero":false}}}},
{"data":{"values":[{"t":177.148},{"t":196.374}]},"mark":{"type":"rule","color":"#ff2020","strokeWidth":1.4,"opacity":0.8},"encoding":{"x":{"field":"t","type":"quantitative","scale":{"domain":[0,320],"nice":false,"zero":false}}}},
{"data":{"values":[{"label":"A","t":180.5,"v":9},{"label":"B","t":198.5,"v":9}]},"mark":{"type":"text","align":"left","baseline":"alphabetic","font":"Roboto","fontWeight":300,"fontSize":25,"color":"#ff2020"},
"encoding":{"x":{"field":"t","type":"quantitative","scale":{"domain":[0,320],"nice":false,"zero":false}},"y":{"field":"v","type":"quantitative","scale":{"domain":[-500,500],"nice":false,"zero":false}},"text":{"field":"label"}}},
{"data":{"values":[{"label":"TP5","t":208.9,"v":443}]},"mark":{"type":"text","align":"center","baseline":"middle","font":"Liberation Sans","fontWeight":"bold","fontSize":33,"color":"#000000"},
"encoding":{"x":{"field":"t","type":"quantitative","scale":{"domain":[0,320],"nice":false,"zero":false}},"y":{"field":"v","type":"quantitative","scale":{"domain":[-500,500],"nice":false,"zero":false}},"text":{"field":"label"}}},
{"data":{"values":[{"t":361.7,"t2":361.7,"v":580,"v2":-637.3},{"t":-57.39,"t2":790.6,"v":-580,"v2":-580}]},"mark":{"type":"rule","color":"#000000","strokeWidth":1.5},
"encoding":{"x":{"field":"t","type":"quantitative","scale":{"domain":[0,320],"nice":false,"zero":false}},"x2":{"field":"t2"},"y":{"field":"v","type":"quantitative","scale":{"domain":[-500,500],"nice":false,"zero":false}},"y2":{"field":"v2"}}},
{"data":{"values":[
{"label":"(177.148p 7.15243m)","t":-52.8,"v":-588.7},
{"label":"(196.374p 5.236Ø3m)","t":-52.8,"v":-619.3},
{"label":"delta: (19.2254p \u22121.9164m)","t":77.1,"v":-588.7},
{"label":"slope: \u221299.68Ø6M","t":77.1,"v":-619.3},
{"label":"A: (177.918p 8.Ø7651m)","t":363.2,"v":-588.7},
{"label":"B: (195.915p 7.56181m)","t":363.2,"v":-619.3},
{"label":"delta: (17.9964p \u2212514.698u)","t":495.4,"v":-588.7},
{"label":"slope: \u221228.6M","t":495.4,"v":-619.3}]},
"mark":{"type":"text","align":"left","baseline":"middle","font":"Roboto","fontWeight":300,"fontSize":22,"color":"#000000"},
"encoding":{"x":{"field":"t","type":"quantitative","scale":{"domain":[0,320],"nice":false,"zero":false}},"y":{"field":"v","type":"quantitative","scale":{"domain":[-500,500],"nice":false,"zero":false}},"text":{"field":"label"}}},
{"data":{"values":[{"label":"Figure 11: Vertical Eye Opening Reduction due to Crosstalk (worst case 5 m cable)","t":366.4,"v":523}]},
"mark":{"type":"text","align":"center","baseline":"alphabetic","font":"Liberation Sans","fontWeight":"bold","fontSize":32,"color":"#000000"},
"encoding":{"x":{"field":"t","type":"quantitative","scale":{"domain":[0,320],"nice":false,"zero":false}},"y":{"field":"v","type":"quantitative","scale":{"domain":[-500,500],"nice":false,"zero":false}},"text":{"field":"label"}}}
]},
{"width":697,"height":750,
"layer":[
{"data":{"name":"R"},"mark":{"type":"line","interpolate":"monotone","strokeWidth":1.5,"clip":true},
"encoding":{"x":{"field":"t","type":"quantitative","scale":{"domain":[0,320],"nice":false,"zero":false},"axis":{"labelFlush":false}},
"y":{"field":"v","type":"quantitative","scale":{"domain":[-500,500],"nice":false,"zero":false},"axis":{"labelFlush":false}},
"color":{"field":"s","type":"nominal","legend":{"orient":"none","legendX":447,"legendY":-13,"direction":"horizontal","columns":16,"title":null,"labelExpr":"''","labelFontSize":1,"symbolSize":28,"symbolStrokeWidth":1,"columnPadding":15,"rowPadding":0,"padding":0,"labelOffset":0},"scale":{"domain":["RA","RB","RC","RD","RE","RF","RG","RH","RI","RJ","RK","RL","RM","RN","RO","RP"],"range":["#9a30e8","#ff8800","#a8a040","#00e0e8","#6f9a86","#ff0000","#9a30e8","#ff9900","#2020ff","#00e0e8","#ff00ff","#33cc66","#000000","#2a9a50","#ff8800","#e6d000"]}}}},
{"data":{"name":"RMK"},"mark":{"type":"point","filled":false,"size":135,"strokeWidth":1.3,"clip":true},
"encoding":{"x":{"field":"t","type":"quantitative","scale":{"domain":[0,320],"nice":false,"zero":false}},
"y":{"field":"v","type":"quantitative","scale":{"domain":[-500,500],"nice":false,"zero":false}},
"color":{"field":"s","type":"nominal","legend":{"orient":"none","legendX":447,"legendY":-13,"direction":"horizontal","columns":16,"title":null,"labelExpr":"''","labelFontSize":1,"symbolSize":28,"symbolStrokeWidth":1,"columnPadding":15,"rowPadding":0,"padding":0,"labelOffset":0}},
"shape":{"field":"s","type":"nominal","legend":{"orient":"none","legendX":447,"legendY":-13,"direction":"horizontal","columns":16,"title":null,"labelExpr":"''","labelFontSize":1,"symbolSize":28,"symbolStrokeWidth":1,"columnPadding":15,"rowPadding":0,"padding":0,"labelOffset":0},"scale":{"domain":["RA","RB","RC","RD","RE","RF","RG","RH","RI","RJ","RK","RL","RM","RN","RO","RP"],"range":["diamond","square","triangle-up","square","triangle-up","M-1,-0.4L1,-0.4L1,0.4L-1,0.4Z","diamond","triangle-right","square","M-0.8,-0.8L0.8,0.8M-0.8,0.8L0.8,-0.8","triangle-down","triangle-up","M-1,0L1,0M0,-1L0,1","triangle-up","triangle-up","triangle-down"]}}}},
{"data":{"values":[{"v":8.07651}]},"mark":{"type":"rule","color":"#ff3030","strokeWidth":3,"opacity":0.85},"encoding":{"y":{"field":"v","type":"quantitative","scale":{"domain":[-500,500],"nice":false,"zero":false}}}},
{"data":{"values":[{"t":177.918},{"t":195.915}]},"mark":{"type":"rule","color":"#ff2020","strokeWidth":1.4,"opacity":0.8},"encoding":{"x":{"field":"t","type":"quantitative","scale":{"domain":[0,320],"nice":false,"zero":false}}}},
{"data":{"values":[{"label":"A","t":181,"v":11},{"label":"B","t":198.5,"v":11}]},"mark":{"type":"text","align":"left","baseline":"alphabetic","font":"Roboto","fontWeight":300,"fontSize":25,"color":"#ff2020"},
"encoding":{"x":{"field":"t","type":"quantitative","scale":{"domain":[0,320],"nice":false,"zero":false}},"y":{"field":"v","type":"quantitative","scale":{"domain":[-500,500],"nice":false,"zero":false}},"text":{"field":"label"}}},
{"data":{"values":[{"label":"TP5","t":216.6,"v":433}]},"mark":{"type":"text","align":"center","baseline":"middle","font":"Liberation Sans","fontWeight":"bold","fontSize":33,"color":"#000000"},
"encoding":{"x":{"field":"t","type":"quantitative","scale":{"domain":[0,320],"nice":false,"zero":false}},"y":{"field":"v","type":"quantitative","scale":{"domain":[-500,500],"nice":false,"zero":false}},"text":{"field":"label"}}}
]}
]
}
